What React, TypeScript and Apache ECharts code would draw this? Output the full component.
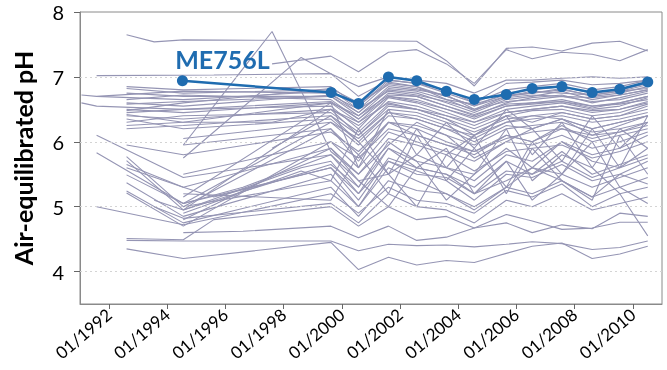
import React, { useEffect, useRef } from "react";
import * as echarts from "echarts";

const _ = null;

// sampling dates (decimal years) shared by all sites
const sampleYears = [
  1991.05, 1991.57, 1992.6, 1993.55, 1994.55, 1995.6, 1996.6, 1997.6, 1998.6,
  1999.62, 2000.57, 2001.6, 2002.57, 2003.59, 2004.55, 2005.65, 2006.54,
  2007.56, 2008.6, 2009.55, 2010.51,
];

// highlighted site
const highlightName = "ME756L";
const highlightYears = [1994.52, 1999.63, 2000.57, 2001.6, 2002.57, 2003.59, 2004.55, 2005.65, 2006.54, 2007.56, 2008.6, 2009.55, 2010.51];
const highlightPH = [6.94, 6.76, 6.59, 7.0, 6.94, 6.78, 6.65, 6.73, 6.82, 6.85, 6.76, 6.81, 6.92];

// other sites (pH at sampleYears, null = not sampled)
const topSites = [
  [_, _, 7.65, 7.54, 7.57, _, _, _, _, 7.56, _, _, 7.55, 7.25, 6.86, 7.44, 7.46, 7.4, 7.52, 7.55, 7.4],
  [_, _, _, _, _, _, _, 7.2, _, 7.32, 7.08, 7.38, 7.42, 7.2, 6.9, 7.42, 7.28, 7.38, 7.35, 7.25, 7.42],
  [_, _, _, _, 5.95, _, _, 7.7, _, 5.85, 5.5, 5.95, 6.3, 6.1, 5.75, 6.0, 6.2, 6.35, 6.1, 6.25, 6.4],
  [_, 7.02, _, _, _, 7.03, _, _, _, 7.05, 6.85, 7.0, 6.95, 6.9, 6.75, 6.95, 6.95, 6.98, 7.0, 6.98, 7.0],
  [_, _, _, _, 5.75, _, _, _, 7.3, 7.05, 6.7, 6.95, 6.9, 6.8, 6.6, 6.9, 6.92, 6.95, 6.88, 6.9, 6.95],
];

const upperSites = [
  [_, _, 6.85, _, 6.8, _, _, _, _, 6.85, 6.55, 6.95, 6.9, 6.75, 6.6, 6.8, 6.85, 6.9, 6.8, 6.85, 6.95],
  [_, _, 6.82, _, 6.75, _, _, _, _, 6.8, 6.5, 6.9, 6.85, 6.7, 6.55, 6.75, 6.8, 6.85, 6.75, 6.8, 6.9],
  [_, 6.7, _, _, 6.78, _, _, _, _, 6.75, 6.45, 6.85, 6.8, 6.72, 6.5, 6.7, 6.78, 6.75, 6.72, 6.78, 6.88],
  [6.72, 6.7, _, _, 6.65, _, _, _, _, 6.78, 6.55, 6.92, 6.85, 6.65, 6.58, 6.72, 6.75, 6.82, 6.7, 6.75, 6.85],
  [_, _, 6.75, _, 6.7, _, _, _, _, 6.7, 6.4, 6.8, 6.75, 6.6, 6.45, 6.65, 6.7, 6.78, 6.65, 6.72, 6.8],
  [_, _, 6.65, _, 6.72, _, _, _, _, 6.65, 6.35, 6.75, 6.7, 6.55, 6.4, 6.6, 6.68, 6.72, 6.6, 6.68, 6.78],
  [_, _, 6.6, _, 6.55, _, _, _, _, 6.72, 6.5, 6.78, 6.72, 6.62, 6.5, 6.62, 6.65, 6.7, 6.62, 6.65, 6.75],
  [_, _, 6.5, _, 6.45, _, _, _, _, 6.6, 6.3, 6.7, 6.65, 6.5, 6.35, 6.55, 6.6, 6.65, 6.55, 6.6, 6.7],
  [_, _, 6.45, _, 6.5, _, _, _, _, 6.55, 6.2, 6.68, 6.6, 6.45, 6.3, 6.5, 6.55, 6.6, 6.5, 6.55, 6.68],
  [_, _, 6.4, _, 6.35, _, _, _, _, 6.5, 6.25, 6.62, 6.55, 6.4, 6.25, 6.45, 6.5, 6.55, 6.45, 6.5, 6.62],
  [_, _, 6.3, _, 6.4, _, _, _, _, 6.45, 6.15, 6.58, 6.5, 6.35, 6.2, 6.4, 6.48, 6.5, 6.4, 6.45, 6.58],
  [_, _, 6.25, _, 6.3, _, _, _, _, 6.6, 6.4, 6.72, 6.7, 6.55, 6.42, 6.58, 6.6, 6.62, 6.55, 6.58, 6.65],
  [_, _, 6.2, _, 6.25, _, _, _, _, 6.4, 6.1, 6.5, 6.45, 6.3, 6.15, 6.35, 6.4, 6.45, 6.35, 6.4, 6.5],
  [_, _, 6.48, _, 6.6, _, _, _, _, 6.82, 6.6, 6.88, 6.82, 6.7, 6.55, 6.7, 6.75, 6.8, 6.72, 6.78, 6.82],
  [_, _, 6.58, _, 6.62, _, _, _, _, 6.7, 6.45, 6.82, 6.78, 6.65, 6.48, 6.68, 6.72, 6.7, 6.68, 6.72, 6.8],
  [6.6, 6.55, _, _, 6.5, _, _, _, _, 6.62, 6.35, 6.7, 6.62, 6.5, 6.38, 6.55, 6.58, 6.62, 6.52, 6.6, 6.7],
  [_, _, 6.35, _, 6.2, _, _, _, _, 6.35, 6.0, 6.45, 6.4, 6.25, 6.05, 6.3, 6.35, 6.4, 6.3, 6.35, 6.45],
  [_, _, 6.42, _, 6.3, _, _, 6.3, _, 6.5, 6.3, 6.6, 6.5, 6.4, 6.3, 6.45, 6.5, 6.55, 6.48, 6.5, 6.6],
  [_, _, _, _, 6.05, _, _, _, _, 6.3, 6.05, 6.45, 6.35, 6.2, 6.1, 6.3, 6.4, 6.35, 6.2, 6.3, 6.4],
  [_, _, 5.95, _, 5.8, _, _, _, _, 6.15, 5.85, 6.3, 6.25, 6.1, 5.95, 6.2, 6.25, 6.3, 6.15, 6.2, 6.3],
  [_, _, _, _, 5.5, _, _, _, _, 6.0, 5.75, 6.2, 6.1, 5.95, 5.85, 6.05, 6.15, 6.2, 6.1, 6.15, 6.25],
];

const middleSites = [
  [_, 6.1, _, _, 5.45, _, _, _, _, 5.8, 5.3, 5.9, 5.7, 5.6, 5.4, 5.8, 5.7, 6.0, 5.8, 5.9, 6.1],
  [_, 5.83, _, _, 5.05, _, _, _, _, 5.6, 5.2, 5.7, 5.5, 5.45, 5.2, 5.55, 5.5, 5.7, 5.45, 5.6, 5.75],
  [_, _, 5.77, _, 5.0, _, _, _, _, 6.2, 5.8, 6.3, 6.2, 6.0, 5.85, 6.1, 6.0, 6.2, 6.05, 6.15, 6.3],
  [_, _, 5.71, _, 4.95, _, _, _, _, 6.5, 6.1, 6.55, 6.5, 6.35, 6.1, 6.4, 6.3, 6.45, 6.35, 6.4, 6.55],
  [_, _, 5.65, _, 5.3, _, _, _, _, 5.9, 5.5, 6.05, 5.95, 5.8, 5.55, 5.85, 5.9, 5.95, 5.75, 5.85, 6.0],
  [_, _, 5.49, _, 5.05, _, _, _, _, 6.3, 5.95, 6.4, 6.35, 6.2, 6.0, 6.25, 6.2, 6.35, 6.2, 6.3, 6.4],
  [_, _, 5.37, _, 4.85, _, _, _, _, 5.5, 5.0, 5.7, 5.55, 5.4, 5.1, 5.5, 5.45, 5.65, 5.4, 5.5, 5.7],
  [_, _, 5.24, _, 4.75, _, _, _, _, 5.3, 4.85, 5.4, 5.25, 5.2, 4.95, 5.3, 5.2, 5.4, 5.15, 5.3, 5.45],
  [_, _, 5.21, _, 4.7, _, _, _, _, 6.0, 5.6, 6.15, 6.0, 5.85, 5.7, 6.0, 5.95, 6.1, 5.9, 6.0, 6.15],
  [_, _, _, 5.0, 4.82, _, _, _, _, 5.05, 4.75, 5.2, 5.0, 4.95, 4.75, 5.1, 5.0, 5.2, 4.95, 5.05, 5.15],
  [_, _, _, 5.1, 4.95, _, _, _, 5.6, 5.7, 5.2, 5.9, 5.6, 5.5, 5.3, 5.7, 5.5, 5.85, 5.5, 5.65, 5.8],
  [_, _, _, _, 5.95, _, _, _, _, 6.2, 5.7, 6.3, 6.1, 5.95, 5.8, 6.1, 6.0, 6.25, 6.0, 6.1, 6.2],
  [_, 5.0, _, _, 4.72, _, _, _, _, 5.2, 4.9, 5.3, 5.1, 5.05, 4.9, 5.25, 5.15, 5.35, 5.0, 5.2, 5.3],
  [_, _, 5.6, _, 5.3, 5.15, _, _, _, 5.6, 5.1, 5.75, 5.6, 5.5, 5.2, 5.4, 5.6, 5.5, 5.3, 5.45, 5.6],
  [_, _, _, _, 5.05, _, 5.3, _, _, 5.8, 5.4, 5.5, 5.8, 5.6, 5.5, 5.9, 5.6, 6.0, 5.7, 5.6, 5.9],
  [_, _, _, _, 4.9, _, _, _, 5.55, 5.4, 5.0, 5.6, 5.4, 5.2, 5.0, 5.3, 5.6, 5.4, 5.15, 5.5, 5.35],
  [_, _, _, _, 5.2, _, _, _, _, 5.1, 5.8, 5.2, 6.1, 5.4, 5.9, 5.3, 6.0, 5.5, 6.2, 5.6, 6.4],
  [_, _, _, _, 4.8, _, _, _, _, 5.9, 5.4, 5.0, 5.6, 5.9, 5.2, 5.7, 5.1, 5.5, 6.0, 5.3, 5.05],
  [_, _, _, _, 5.0, _, _, _, _, 5.4, 6.2, 5.5, 5.0, 5.8, 6.1, 5.2, 5.9, 5.4, 5.1, 6.1, 5.5],
  [_, _, _, _, 4.95, _, _, _, _, 5.65, 5.3, 6.0, 5.7, 5.1, 5.5, 6.2, 5.4, 5.8, 5.6, 5.2, 4.55],
  [_, _, _, _, 5.15, _, _, _, _, 6.6, 5.6, 6.5, 5.8, 6.3, 5.9, 6.5, 6.2, 5.7, 6.4, 5.9, 6.3],
  [_, _, _, _, _, _, _, 5.9, _, 6.4, 6.0, 5.5, 6.2, 5.6, 6.1, 6.4, 5.8, 6.3, 5.6, 6.2, 5.9],
];

const lowerSites = [
  [_, _, 4.51, _, 4.49, 4.8, _, _, _, 5.0, 4.7, 5.0, 4.8, 4.85, 4.67, 4.88, 4.78, 4.65, 4.67, 4.76, 4.76],
  [_, _, 4.48, _, 4.47, _, _, _, _, 4.47, 4.32, 4.42, 4.4, 4.41, 4.38, 4.42, 4.46, 4.43, 4.34, 4.37, 4.47],
  [_, _, 4.35, _, 4.2, _, _, _, _, 4.45, 4.03, 4.22, 4.1, 4.17, 4.14, 4.28, 4.39, 4.44, 4.2, 4.27, 4.39],
  [_, _, _, _, 4.6, _, 4.62, _, _, 4.7, 4.52, 4.7, 4.48, 4.53, 4.67, 4.75, 4.6, 4.72, 4.66, 4.9, 4.85],
];

const tickYears = [1992, 1994, 1996, 1998, 2000, 2002, 2004, 2006, 2008, 2010];
const yTicks = [4, 5, 6, 7, 8];
const gridValues = [4, 5, 6, 7];

const GRAY = "#9595b4";
const BLUE = "#1f6cb0";
const FONT = "Lato, 'Noto Sans', sans-serif";

export default function App() {
  const ref = useRef<HTMLDivElement>(null);

  useEffect(() => {
    if (!ref.current) return;
    const chart = echarts.init(ref.current, undefined, { renderer: "svg" });

    const allGray = [...topSites, ...upperSites, ...middleSites, ...lowerSites];
    const graySeries = allGray.map((vals, k) => ({
      type: "line",
      name: "site" + k,
      silent: true,
      symbol: "none",
      z: 2,
      lineStyle: { color: GRAY, width: 1.1 },
      data: sampleYears
        .map((x, i) => (vals[i] == null ? null : [x, vals[i]]))
        .filter((d) => d !== null),
      markLine:
        k === 0
          ? {
              silent: true,
              symbol: "none",
              label: { show: false },
              lineStyle: { color: "#d4d4d4", type: [2, 3], width: 1 },
              data: gridValues.map((v) => ({ yAxis: v })),
            }
          : undefined,
    }));

    const blueData = highlightYears.map((x, i) =>
      i === 0
        ? {
            value: [x, highlightPH[i]],
            label: {
              show: true,
              formatter: highlightName,
              position: "top",
              distance: 4,
              offset: [40, 0],
              color: BLUE,
              fontSize: 25,
              fontWeight: "bold",
              fontFamily: FONT,
            },
          }
        : [x, highlightPH[i]]
    );

    chart.setOption({
      animation: false,
      grid: { left: 80, right: 5, top: 12, bottom: 66, containLabel: false, show: true, borderColor: "#8a8a8a", borderWidth: 1 },
      xAxis: {
        type: "value",
        min: 1991,
        max: 2011,
        splitLine: { show: false },
        axisLine: { lineStyle: { color: "#8a8a8a" } },
        axisTick: { show: true, length: 5, customValues: tickYears, lineStyle: { color: "#666" } },
        axisLabel: {
          customValues: tickYears,
          formatter: (v: number) => "01/" + Math.round(v),
          rotate: 40,
          margin: 8,
          fontSize: 17,
          color: "#000",
          fontFamily: FONT,
        },
      },
      yAxis: {
        type: "value",
        min: 3.5,
        max: 8,
        name: "Air-equilibrated pH",
        nameLocation: "middle",
        nameGap: 45,
        nameTextStyle: { fontSize: 25, fontWeight: "bold", color: "#000", fontFamily: FONT },
        splitLine: { show: false },
        axisLine: { show: true, lineStyle: { color: "#8a8a8a" } },
        axisTick: { show: true, length: 6, customValues: yTicks, lineStyle: { color: "#666" } },
        axisLabel: {
          customValues: yTicks,
          margin: 16,
          fontSize: 20,
          color: "#000",
          fontFamily: FONT,
        },
      },
      series: [
        ...graySeries,
        {
          type: "line",
          name: highlightName,
          z: 5,
          symbol: "circle",
          symbolSize: 11,
          itemStyle: { color: BLUE },
          lineStyle: { color: BLUE, width: 2.5 },
          data: blueData,
        },
      ],
    });

    return () => chart.dispose();
  }, []);

  return (
    <div
      ref={ref}
      style={{ position: "fixed", left: 0, top: 0, width: 667, height: 370 }}
    />
  );
}
